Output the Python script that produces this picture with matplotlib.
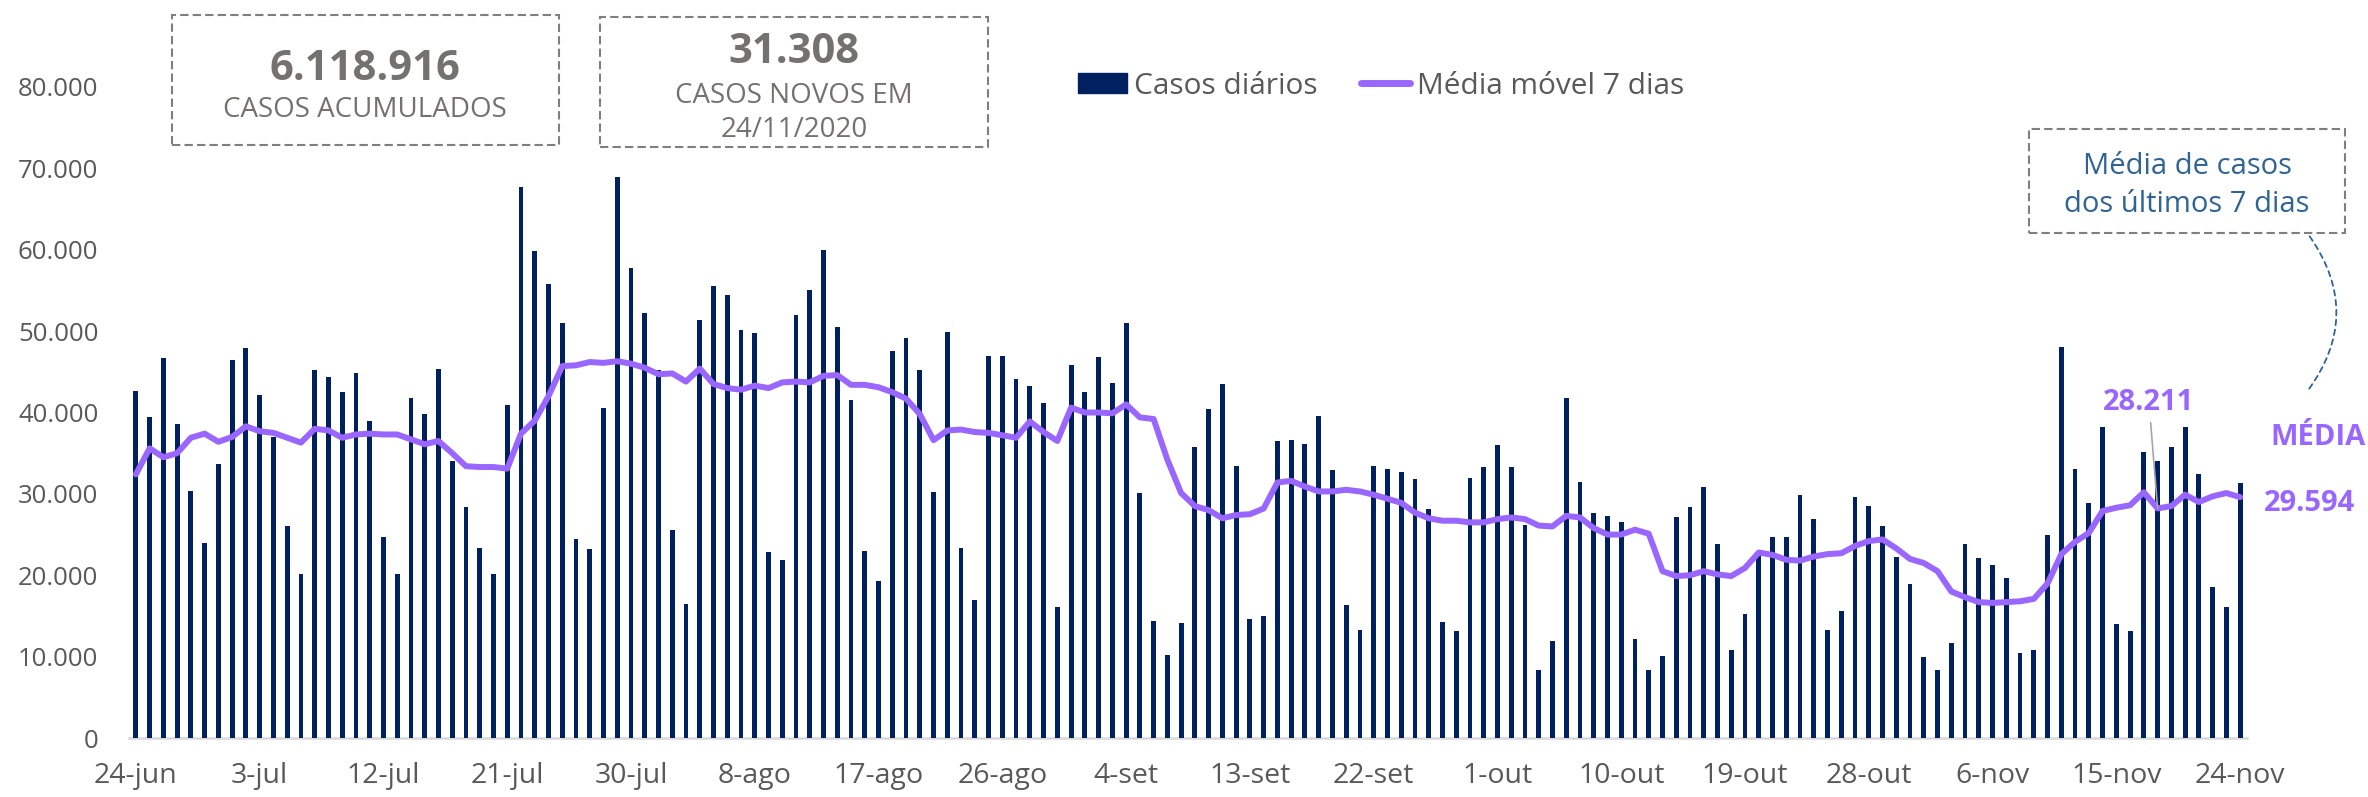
import matplotlib
matplotlib.use('Agg')
import matplotlib.pyplot as plt
import numpy as np
import pandas as pd
from matplotlib.patches import Rectangle, FancyArrowPatch, Patch
from matplotlib.lines import Line2D

plt.rcParams['font.family'] = ['Open Sans', 'DejaVu Sans']

# ---------------- data ----------------
dates = pd.date_range('2020-06-24', '2020-11-24', freq='D')

daily_cases = [
    42700, 39400, 46700, 38600, 30400, 24000, 33700, 46500, 47900, 42100,
    37000, 26000, 20100, 45200, 44400, 42500, 44900, 38900, 24700, 20200,
    41800, 39800, 45300, 34100, 28400, 23400, 20200, 40900, 67700, 59800,
    55800, 51000, 24500, 23200, 40600, 68900, 57700, 52200, 45200, 25600,
    16500, 51400, 55500, 54400, 50100, 49800, 22900, 21900, 52000, 55000,
    60000, 50500, 41500, 23000, 19300, 47600, 49100, 45200, 30200, 49900,
    23300, 16900, 47000, 47000, 44100, 43200, 41200, 16100, 45800, 42500,
    46800, 43600, 51000, 30100, 14400, 10200, 14100, 35700, 40400, 43500,
    33400, 14600, 15000, 36500, 36600, 36100, 39600, 32900, 16300, 13300,
    33400, 33100, 32700, 31800, 28200, 14200, 13100, 31900, 33300, 36000,
    33300, 26200, 8300, 11900, 41800, 31400, 27600, 27300, 26600, 12200,
    8300, 10100, 27100, 28400, 30800, 23900, 10800, 15200, 22800, 24700,
    24700, 29900, 26900, 13300, 15600, 29600, 28500, 26000, 22200, 18900,
    10000, 8400, 11700, 23800, 22100, 21300, 19700, 10400, 10800, 24900,
    48100, 33000, 28900, 38200, 14000, 13200, 35100, 34000, 35700, 38200,
    32400, 18500, 16100, 31308,
]

moving_avg = [
    32400, 35600, 34500, 35000, 36900, 37400, 36400, 37000, 38300, 37700,
    37500, 36900, 36300, 38000, 37800, 36900, 37300, 37400, 37300, 37300,
    36700, 36100, 36500, 35000, 33400, 33300, 33300, 33100, 37400, 39000,
    42000, 45700, 45800, 46200, 46100, 46300, 46000, 45500, 44700, 44800,
    43800, 45400, 43500, 43000, 42800, 43300, 43000, 43700, 43800, 43700,
    44500, 44600, 43400, 43400, 43100, 42500, 41700, 39800, 36600, 37800,
    37900, 37600, 37500, 37200, 36900, 38900, 37600, 36500, 40600, 40000,
    40000, 39900, 41000, 39400, 39200, 34200, 30100, 28500, 28000, 27000,
    27400, 27500, 28200, 31400, 31600, 30900, 30300, 30300, 30500, 30300,
    29900, 29400, 28900, 27700, 27000, 26700, 26700, 26500, 26500, 26900,
    27100, 26900, 26100, 26000, 27300, 27100, 25800, 25000, 25000, 25600,
    25100, 20500, 19900, 20000, 20500, 20100, 19900, 20900, 22800, 22500,
    21900, 21800, 22300, 22600, 22700, 23600, 24200, 24400, 23300, 22000,
    21500, 20500, 18000, 17300, 16700, 16600, 16700, 16800, 17100, 19000,
    22600, 24100, 25200, 27900, 28300, 28600, 30200, 28211, 28500, 29900,
    29000, 29700, 30100, 29594,
]

x_tick_labels = ['24-jun', '3-jul', '12-jul', '21-jul', '30-jul', '8-ago',
                 '17-ago', '26-ago', '4-set', '13-set', '22-set', '1-out',
                 '10-out', '19-out', '28-out', '6-nov', '15-nov', '24-nov']
y_tick_values = [0, 10000, 20000, 30000, 40000, 50000, 60000, 70000, 80000]
y_tick_labels = ['0', '10.000', '20.000', '30.000', '40.000', '50.000',
                 '60.000', '70.000', '80.000']

total_cases_text = '6.118.916'
new_cases_text = '31.308'
new_cases_date = '24/11/2020'
ma_point_label = '28.211'
ma_last_label = '29.594'

# ---------------- style ----------------
W, H = 2368, 797
NAVY = '#002060'
PURPLE = '#9966FF'
GRAY_TXT = '#595959'
BOX_TXT = '#757171'
BLUE_TXT = '#2F6496'

def fx(px):
    return px / W

def fy(py):
    return 1 - py / H

fig = plt.figure(figsize=(W / 100, H / 100), dpi=100)
ax = fig.add_axes([fx(129), fy(738), (2247 - 129) / W, (738 - 87) / H])

x = np.arange(len(dates))
ax.bar(x, daily_cases, width=0.35, color=NAVY, zorder=2)
ax.plot(x, moving_avg, color=PURPLE, lw=4.3, solid_joinstyle='round',
        solid_capstyle='round', zorder=3)

ax.set_xlim(-0.5, len(dates) - 0.5)
ax.set_ylim(0, 80000)
ax.set_yticks(y_tick_values)
ax.set_yticklabels(y_tick_labels)
tick_pos = x[::9]
ax.set_xticks(tick_pos)
ax.set_xticklabels(x_tick_labels)
ax.tick_params(axis='y', length=0, pad=22, labelsize=18.5, labelcolor=GRAY_TXT)
ax.tick_params(axis='x', length=0, pad=17, labelsize=20.5, labelcolor=GRAY_TXT)
for s in ['top', 'right', 'left']:
    ax.spines[s].set_visible(False)
ax.spines['bottom'].set_color('#D9D9D9')
ax.spines['bottom'].set_linewidth(1.8)
ax.spines['bottom'].set_zorder(1)

# ---------------- legend ----------------
handles = [Patch(color=NAVY),
           Line2D([], [], color=PURPLE, lw=5, solid_capstyle='round')]
fig.legend(handles, ['Casos diários', 'Média móvel 7 dias'],
           loc='center left', bbox_to_anchor=(fx(1078), fy(86)),
           ncol=2, frameon=False, fontsize=21.5, handlelength=1.65,
           handleheight=0.66, handletextpad=0.22, columnspacing=1.45,
           borderpad=0, borderaxespad=0, labelcolor=GRAY_TXT)

# ---------------- info boxes ----------------
def dashed_box(x0, y0, x1, y1, color='#7F7F7F'):
    fig.add_artist(Rectangle((fx(x0), fy(y1)), (x1 - x0) / W, (y1 - y0) / H,
                             transform=fig.transFigure, fill=False,
                             ec=color, lw=1.5, ls=(0, (4, 2))))

dashed_box(172, 15, 559, 145)
fig.text(fx(365), fy(80), total_cases_text, ha='center', va='baseline',
         fontsize=30, fontweight='bold', color=BOX_TXT)
fig.text(fx(365), fy(117), 'CASOS ACUMULADOS', ha='center', va='baseline',
         fontsize=20, color=BOX_TXT)

dashed_box(600, 17, 988, 147)
fig.text(fx(794), fy(63), new_cases_text, ha='center', va='baseline',
         fontsize=30, fontweight='bold', color=BOX_TXT)
fig.text(fx(794), fy(103), 'CASOS NOVOS EM', ha='center', va='baseline',
         fontsize=20, color=BOX_TXT)
fig.text(fx(794), fy(137), new_cases_date, ha='center', va='baseline',
         fontsize=20, color=BOX_TXT)

dashed_box(2029, 129, 2345, 233)
fig.text(fx(2187), fy(174), 'Média de casos', ha='center', va='baseline',
         fontsize=21, color=BLUE_TXT)
fig.text(fx(2187), fy(212), 'dos últimos 7 dias', ha='center', va='baseline',
         fontsize=21, color=BLUE_TXT)

# curved dashed connector
fig.add_artist(FancyArrowPatch(posA=(fx(2308), fy(234)), posB=(fx(2306), fy(393)),
                               transform=fig.transFigure,
                               connectionstyle='arc3,rad=-0.37',
                               arrowstyle='-', ls=(0, (3, 2.5)),
                               color=BLUE_TXT, lw=1.3))

fig.text(fx(2318), fy(445), 'MÉDIA', ha='center', va='baseline',
         fontsize=21, fontweight='bold', color=PURPLE)
fig.text(fx(2310), fy(511), ma_last_label, ha='center', va='baseline',
         fontsize=21, fontweight='bold', color=PURPLE)

# 28.211 label with leader line
idx_pt = 147
ax.annotate(ma_point_label, xy=(x[idx_pt], moving_avg[idx_pt]),
            xytext=(2149, H - 410), textcoords='figure pixels',
            ha='center', va='baseline', fontsize=21, fontweight='bold',
            color=PURPLE,
            arrowprops=dict(arrowstyle='-', color='#A6A6A6', lw=1.2,
                            shrinkA=2, shrinkB=0), zorder=5)

fig.savefig('out.png', dpi=100)
